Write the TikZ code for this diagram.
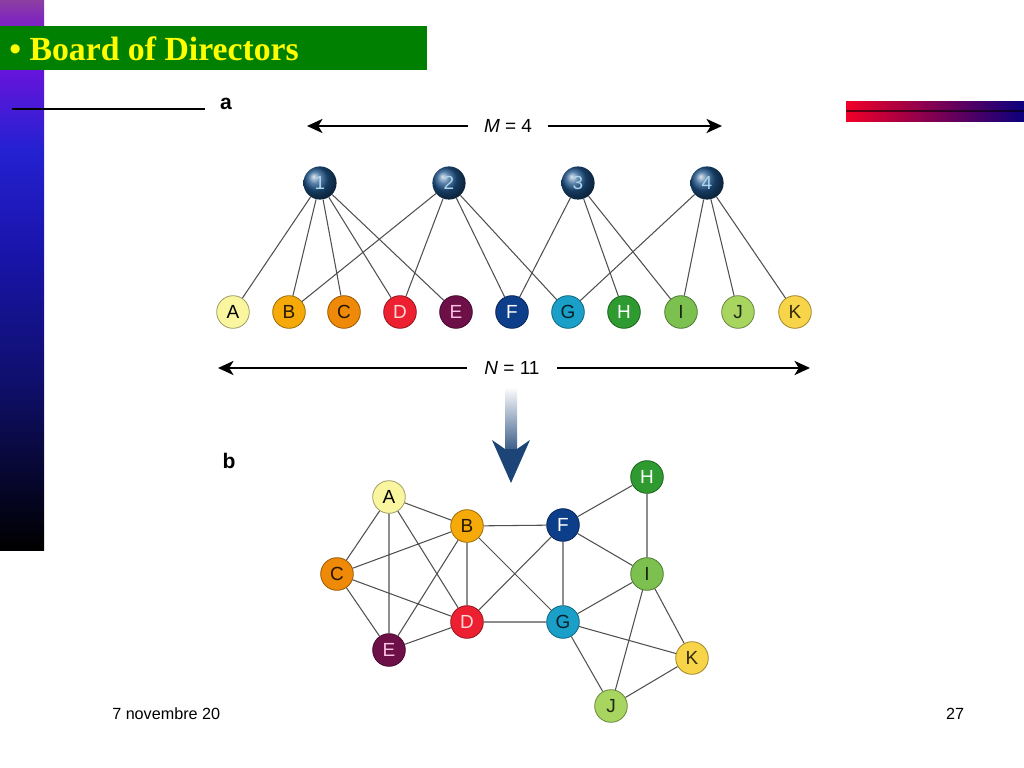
\documentclass[tikz,border=0pt]{standalone}
\usepackage{fontspec}
\setmainfont{Liberation Sans}
\newfontfamily\titlefont{Liberation Serif}
\usetikzlibrary{arrows.meta,positioning,calc,shadings}
\definecolor{titlegreen}{RGB}{0,128,0}
\definecolor{titleyellow}{RGB}{255,255,0}
\definecolor{tiegray}{RGB}{80,80,80}
\definecolor{dirblue}{RGB}{30,85,140}
\definecolor{dirtext}{RGB}{175,215,235}
\definecolor{arrowblue}{RGB}{28,68,118}
\definecolor{barred}{RGB}{240,0,40}
\definecolor{barnavy}{RGB}{15,0,125}
\definecolor{cA}{RGB}{250,246,160}
\definecolor{cB}{RGB}{245,170,10}
\definecolor{cC}{RGB}{238,138,8}
\definecolor{cD}{RGB}{236,32,48}
\definecolor{cE}{RGB}{110,16,72}
\definecolor{cF}{RGB}{12,62,138}
\definecolor{cG}{RGB}{26,160,200}
\definecolor{cH}{RGB}{46,154,48}
\definecolor{cI}{RGB}{124,192,80}
\definecolor{cJ}{RGB}{168,212,96}
\definecolor{cK}{RGB}{248,212,72}
\pgfdeclareverticalshading{sidebar}{100bp}{rgb(0bp)=(0,0,0); rgb(25bp)=(0,0,0);
  rgb(40.5bp)=(0.06,0.06,0.43); rgb(52.3bp)=(0.10,0.08,0.67); rgb(61.4bp)=(0.14,0.13,0.82);
  rgb(68.6bp)=(0.40,0.08,0.86); rgb(73.2bp)=(0.50,0.15,0.75); rgb(75bp)=(0.55,0.25,0.63);
  rgb(100bp)=(0.55,0.25,0.63)}
\newcommand\mysize[1]{\fontsize{#1}{#1}\selectfont}
\begin{document}
\begin{tikzpicture}[line join=round, x=0.025cm, y=-0.025cm,
  tie/.style={draw=tiegray, line width=0.75pt},
  member/.style={circle, inner sep=0pt, minimum size=23.2pt, fill=#1, draw=#1!65!black, line width=0.6pt, font=\mysize{13.5}},
  director/.style={circle, inner sep=0pt, minimum size=23.6pt, shading=ball, ball color=dirblue, text=dirtext, font=\mysize{13.5}},
  sizearrow/.style={line width=1.6pt, -{Stealth[length=11pt,width=10pt,inset=3pt]}}]
\useasboundingbox (0,0) rectangle (1024,768);
% slide frame
\shade[shading=sidebar] (0,0) rectangle (44,550);
\fill[titlegreen] (0,26) rectangle (427,70);
\node[anchor=base west, inner sep=0pt, text=titleyellow, font=\titlefont\bfseries\mysize{24}] (title) at (9,61) {• Board of Directors};
\draw[line width=2pt] (12,109) -- (205,109);
\foreach \i in {0,...,58}
{
\pgfmathsetmacro\t{100*\i/58}
\fill[barnavy!\t!barred] ({846+3*\i},101) rectangle ({850+3*\i},122);
}
\draw[black, opacity=0.6, line width=1.6pt] (846,111) -- (1024,111);
% part a
\node[font=\bfseries\mysize{15}] (la) at (226,104) {a};
\node[minimum width=56pt, inner sep=0pt, font=\mysize{13.5}] (Mlab) at (508,126) {{\itshape M} = 4};
\coordinate (mL) at (307,126);
\coordinate (mR) at (722,126);
\draw[sizearrow] (Mlab) -- (mL);
\draw[sizearrow] (Mlab) -- (mR);
\node[director] (m1) at (320,183) {1};
\node[director] (m2) at (449,183) {2};
\node[director] (m3) at (578,183) {3};
\node[director] (m4) at (707,183) {4};
\node[member=cA, text=black] (nA) at (233,312) {A};
\node[member=cB, text=black!85!cB] (nB) at (289,312) {B};
\node[member=cC, text=black!85!cC] (nC) at (344,312) {C};
\node[member=cD, text=red!15!white] (nD) at (400,312) {D};
\node[member=cE, text=magenta!25!white] (nE) at (456,312) {E};
\node[member=cF, text=white] (nF) at (512,312) {F};
\node[member=cG, text=black!80!cG] (nG) at (568,312) {G};
\node[member=cH, text=white] (nH) at (624,312) {H};
\node[member=cI, text=black!80!cI] (nI) at (681,312) {I};
\node[member=cJ, text=black!80!cJ] (nJ) at (738,312) {J};
\node[member=cK, text=black!80!cK] (nK) at (795,312) {K};
\draw[tie] (m1)--(nA) (m1)--(nB) (m1)--(nC) (m1)--(nD) (m1)--(nE);
\draw[tie] (m2)--(nB) (m2)--(nD) (m2)--(nF) (m2)--(nG);
\draw[tie] (m3)--(nF) (m3)--(nH) (m3)--(nI);
\draw[tie] (m4)--(nG) (m4)--(nI) (m4)--(nJ) (m4)--(nK);
\node[minimum width=64pt, inner sep=0pt, font=\mysize{13.5}] (Nlab) at (512,368) {{\itshape N} = 11};
\coordinate (nL) at (218,368);
\coordinate (nR) at (810,368);
\draw[sizearrow] (Nlab) -- (nL);
\draw[sizearrow] (Nlab) -- (nR);
% projection arrow
\shade[top color=white, bottom color=arrowblue!85!white] (505,387) rectangle (517,449);
\fill[arrowblue] (492,440) -- (505,449) -- (517,449) -- (530,440) -- (511,483) -- cycle;
% part b
\node[font=\bfseries\mysize{15}] (lb) at (229,461) {b};
\node[member=cA, text=black] (A) at (389,497) {A};
\node[member=cB, text=black!85!cB] (B) at (467,526) {B};
\node[member=cF, text=white] (F) at (563,525) {F};
\node[member=cH, text=white] (H) at (647,477) {H};
\node[member=cC, text=black!85!cC] (C) at (337,574) {C};
\node[member=cI, text=black!80!cI] (I) at (647,574) {I};
\node[member=cD, text=red!15!white] (D) at (467,622) {D};
\node[member=cG, text=black!80!cG] (G) at (563,622) {G};
\node[member=cE, text=magenta!25!white] (E) at (389,650) {E};
\node[member=cK, text=black!80!cK] (K) at (692,658) {K};
\node[member=cJ, text=black!80!cJ] (J) at (611,706) {J};
\draw[tie] (A)--(B) (A)--(C) (A)--(D) (A)--(E) (B)--(C) (B)--(D) (B)--(E) (C)--(D) (C)--(E) (D)--(E);
\draw[tie] (B)--(F) (B)--(G) (D)--(F) (D)--(G) (F)--(G);
\draw[tie] (F)--(H) (F)--(I) (H)--(I);
\draw[tie] (G)--(I) (G)--(J) (G)--(K) (I)--(J) (I)--(K) (J)--(K);
% footer
\node[anchor=west, inner sep=0pt, font=\mysize{11.5}] (date) at (112,714) {7 novembre 20};
\node[inner sep=0pt, font=\mysize{11.5}] (page) at (955,714) {27};
\end{tikzpicture}
\end{document}
